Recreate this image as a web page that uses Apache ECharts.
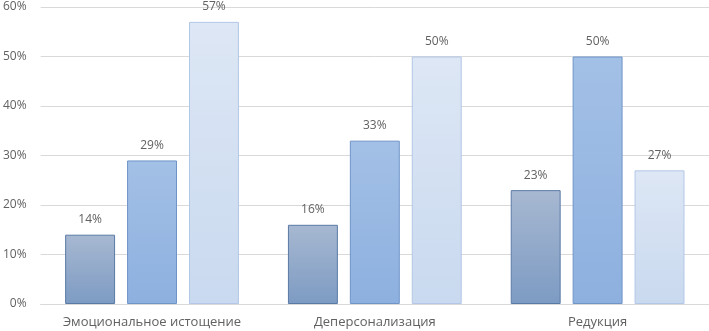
<!DOCTYPE html>
<html><head><meta charset="utf-8">
<script src="https://cdn.jsdelivr.net/npm/echarts@6/dist/echarts.min.js"></script>
<style>html,body{margin:0;padding:0;background:#fff}#c{width:709px;height:331px}</style>
</head><body><div id="c"></div>
<script>
const categories = ['Эмоциональное истощение', 'Деперсонализация', 'Редукция'];
const seriesA = [14, 16, 23];
const seriesB = [29, 33, 50];
const seriesC = [57, 50, 27];
const yTicks = [0, 10, 20, 30, 40, 50, 60];

const font = 'Open Sans';
function grad(top, bottom) {
  return new echarts.graphic.LinearGradient(0, 0, 0, 1, [{offset: 0, color: top}, {offset: 1, color: bottom}]);
}
const styles = [
  {color: grad('#a7b8d1', '#7d9bc3'), borderColor: '#5a7aa6'},
  {color: grad('#a3c0e6', '#8db0df'), borderColor: '#6f94c8'},
  {color: grad('#dde7f5', '#c9d9ef'), borderColor: '#b3c7e6'}
];
const data = [seriesA, seriesB, seriesC];
const chart = echarts.init(document.getElementById('c'));
chart.setOption({
  animation: false,
  grid: {left: 40, right: 0, top: 7, bottom: 27},
  xAxis: {
    type: 'category', data: categories,
    axisLine: {show: true, lineStyle: {color: '#d9d9d9'}},
    axisTick: {show: false},
    axisLabel: {interval: 0, hideOverlap: false, color: '#616161', fontFamily: font, fontSize: 13, margin: 12}
  },
  yAxis: {
    type: 'value', min: yTicks[0], max: yTicks[yTicks.length - 1], interval: 10,
    axisLine: {show: false}, axisTick: {show: false},
    splitLine: {lineStyle: {color: '#d9d9d9'}},
    axisLabel: {color: '#616161', fontFamily: font, fontSize: 12, margin: 14, formatter: '{value}%'}
  },
  series: data.map((d, i) => ({
    type: 'bar', data: d,
    barGap: '24%', barCategoryGap: '22%',
    itemStyle: {color: styles[i].color, borderColor: styles[i].borderColor, borderWidth: 1},
    label: {show: true, position: 'top', distance: 9, color: '#616161', fontFamily: font, fontSize: 12, formatter: '{c}%'}
  }))
});
</script></body></html>
